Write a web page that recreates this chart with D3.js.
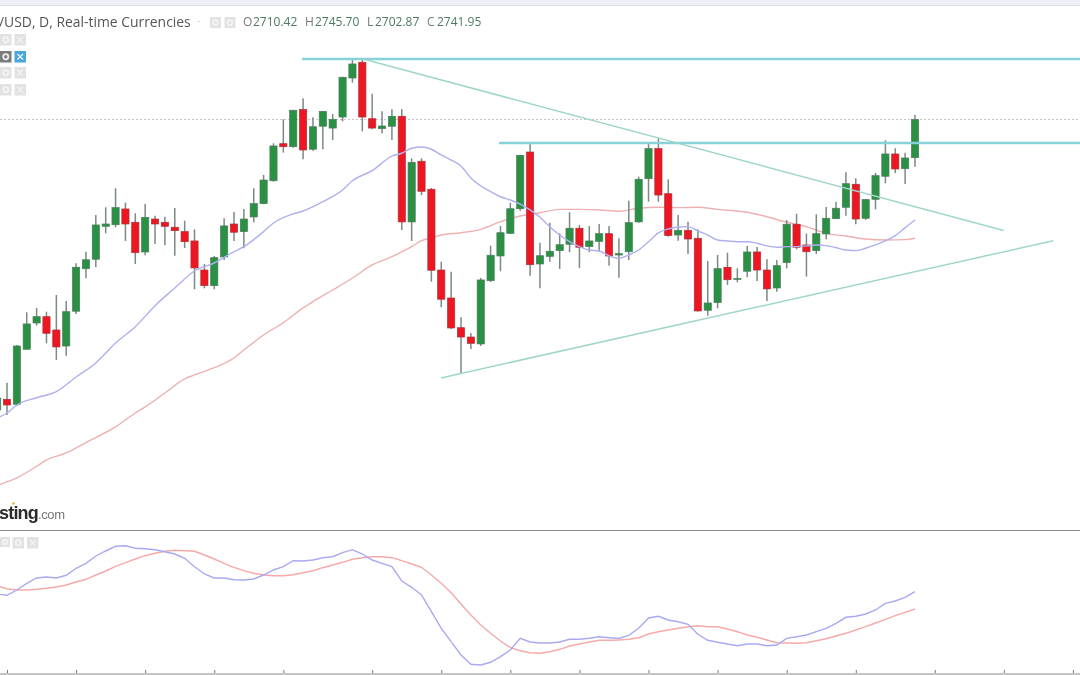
<!DOCTYPE html>
<html>
<head>
<meta charset="utf-8">
<script src="https://cdn.jsdelivr.net/npm/d3@7"></script>
<style>
  html, body { margin: 0; padding: 0; background: #fff; overflow: hidden; }
  svg { display: block; filter: blur(0.45px); }
</style>
</head>
<body>
<svg id="chart"></svg>
<script>
// daily candles, first one is cut off by the left edge
const firstCandle = -1;
const opens = [
  2502.2, 2511.0, 2506.9, 2552.3, 2574.0, 2579.2, 2568.2, 2555.0, 2583.7, 2618.8,
  2626.6, 2653.8, 2655.1, 2668.1, 2657.1, 2632.6, 2659.8, 2657.1, 2653.0, 2649.4,
  2641.7, 2617.7, 2604.8, 2628.5, 2655.7, 2649.4, 2661.5, 2672.5, 2691.4, 2722.0,
  2719.5, 2750.1, 2717.4, 2736.4, 2734.9, 2744.0, 2776.2, 2789.2, 2742.6, 2734.4,
  2736.4, 2744.6, 2657.4, 2707.5, 2684.4, 2617.7, 2594.6, 2570.1, 2562.4, 2556.7,
  2608.9, 2629.3, 2648.0, 2668.3, 2715.1, 2622.7, 2629.0, 2633.7, 2639.0, 2652.2,
  2637.0, 2641.4, 2647.7, 2630.1, 2632.8, 2657.4, 2693.1, 2717.9, 2680.7, 2646.6,
  2650.5, 2643.9, 2584.5, 2590.8, 2620.0, 2610.3, 2616.7, 2632.6, 2617.7, 2602.9,
  2623.8, 2655.5, 2638.4, 2633.7, 2647.5, 2660.1, 2669.5, 2688.5, 2660.4, 2676.1,
  2695.1, 2713.5, 2701.4, 2710.42,
];
const highs = [
  2514.6, 2524.7, 2555.8, 2582.8, 2586.4, 2583.3, 2597.1, 2592.2, 2623.3, 2632.8,
  2663.1, 2669.5, 2685.2, 2673.3, 2664.5, 2672.2, 2662.6, 2661.7, 2668.9, 2658.4,
  2651.3, 2622.7, 2629.3, 2660.4, 2665.6, 2668.1, 2685.2, 2696.2, 2722.3, 2742.1,
  2749.8, 2759.5, 2743.8, 2749.0, 2746.5, 2777.3, 2791.9, 2791.9, 2763.3, 2748.7,
  2750.4, 2750.6, 2709.9, 2709.9, 2685.4, 2624.6, 2616.3, 2578.7, 2565.7, 2611.1,
  2637.8, 2654.1, 2673.3, 2712.9, 2722.3, 2640.3, 2656.8, 2648.0, 2665.4, 2654.9,
  2654.1, 2655.7, 2654.1, 2643.9, 2674.9, 2694.8, 2721.7, 2726.4, 2692.6, 2663.1,
  2657.6, 2651.3, 2625.2, 2630.1, 2632.0, 2619.1, 2637.6, 2636.7, 2626.6, 2626.0,
  2659.0, 2664.2, 2647.7, 2663.7, 2669.7, 2674.1, 2698.4, 2693.4, 2676.3, 2697.8,
  2724.8, 2718.2, 2714.6, 2745.70,
];
const lows = [
  2498.1, 2498.1, 2505.5, 2552.0, 2571.8, 2557.2, 2543.5, 2547.0, 2581.4, 2610.9,
  2620.0, 2648.0, 2653.0, 2641.7, 2622.7, 2629.9, 2639.2, 2638.1, 2629.5, 2635.9,
  2601.8, 2602.6, 2601.8, 2626.0, 2641.7, 2635.7, 2657.1, 2672.0, 2690.6, 2714.6,
  2718.7, 2709.1, 2716.2, 2717.4, 2725.0, 2740.5, 2772.3, 2732.2, 2733.9, 2730.6,
  2725.0, 2650.8, 2641.7, 2679.4, 2608.1, 2587.0, 2569.0, 2531.9, 2552.5, 2555.0,
  2607.8, 2616.7, 2647.5, 2666.7, 2613.0, 2602.6, 2624.6, 2618.6, 2632.4, 2619.4,
  2632.4, 2632.8, 2621.3, 2611.4, 2626.0, 2656.8, 2674.1, 2674.1, 2645.2, 2641.9,
  2630.9, 2583.5, 2580.0, 2586.1, 2605.4, 2607.6, 2611.7, 2608.7, 2592.2, 2599.8,
  2619.1, 2634.8, 2612.2, 2630.9, 2643.1, 2659.8, 2662.6, 2655.5, 2659.0, 2667.8,
  2689.3, 2697.8, 2688.7, 2702.87,
];
const closes = [
  2512.1, 2506.3, 2555.0, 2573.2, 2579.2, 2565.5, 2554.2, 2583.3, 2620.0, 2626.2,
  2654.9, 2655.7, 2669.2, 2655.7, 2632.0, 2661.2, 2655.7, 2653.8, 2650.2, 2641.1,
  2619.4, 2604.8, 2627.9, 2654.1, 2648.9, 2659.8, 2672.5, 2692.0, 2720.1, 2719.5,
  2749.6, 2716.8, 2736.0, 2748.7, 2742.1, 2776.8, 2787.8, 2744.0, 2734.9, 2736.6,
  2744.6, 2657.4, 2706.6, 2682.7, 2617.5, 2593.6, 2569.9, 2562.4, 2557.2, 2609.5,
  2629.9, 2648.5, 2668.3, 2712.4, 2622.1, 2629.5, 2633.2, 2638.6, 2652.2, 2636.5,
  2641.7, 2647.7, 2629.3, 2631.2, 2656.8, 2692.6, 2717.9, 2679.6, 2646.1, 2650.5,
  2643.3, 2583.9, 2590.5, 2618.8, 2609.7, 2610.6, 2632.6, 2617.7, 2602.1, 2621.3,
  2655.5, 2636.5, 2632.8, 2647.7, 2660.4, 2668.7, 2689.0, 2659.8, 2675.8, 2695.6,
  2713.5, 2701.1, 2710.2, 2741.95,
];

// moving averages, read at these candle numbers
const fastMaAt = [
  -1, 0, 1, 3, 5, 7, 9, 11, 13, 15, 17, 19, 21, 23, 24, 26, 27, 29, 30, 32, 34, 35, 37, 39, 40, 41,
  42, 43, 44, 45, 46, 47, 49, 50, 51, 52, 53, 54, 55, 56, 57, 58, 59, 60, 61, 62, 63, 64, 65, 66,
  67, 68, 69, 70, 71, 72, 73, 74, 75, 76, 77, 78, 79, 80, 81, 82, 83, 84, 85, 86, 87, 88, 89, 90, 91, 92,
];
const fastMa = [
  2495.6, 2499.7, 2506.3, 2512.3, 2517.3, 2529.4, 2541.0, 2557.5, 2570.9, 2588.3, 2602.9, 2616.9, 2623.5,
  2632.8, 2637.0, 2649.4, 2656.5, 2664.0, 2666.4, 2674.1, 2683.8, 2691.4, 2699.7, 2711.8, 2714.1, 2718.2,
  2719.3, 2717.4, 2712.7, 2708.5, 2703.6, 2693.7, 2682.4, 2678.2, 2675.5, 2672.2, 2667.3, 2661.2, 2653.5, 2646.6,
  2641.1, 2637.0, 2634.2, 2633.4, 2629.5, 2627.4, 2630.1, 2634.2, 2641.1, 2648.3,
  2651.6, 2653.2, 2653.5, 2649.9, 2646.6, 2642.5, 2641.7, 2641.1, 2641.1, 2639.8, 2637.6, 2636.5, 2637.0, 2637.0,
  2637.6, 2638.4, 2637.8, 2636.1, 2634.2, 2633.7, 2635.7, 2638.4, 2641.7, 2646.1, 2652.7, 2659.0,
];
const slowMaAt = [
  -1, 1, 3, 4, 6, 8, 11, 13, 14, 16, 18, 19, 21, 23, 24, 26, 28, 30, 31, 33, 35, 37, 39, 41, 42, 43, 44,
  46, 48, 50, 52, 54, 56, 58, 60, 62, 64, 66, 68, 70, 72, 75, 77, 79, 81, 83, 85, 87, 89, 91, 92,
];
const slowMa = [
  2439.9, 2446.1, 2455.7, 2460.9, 2466.7, 2475.3, 2488.2, 2499.7, 2504.7, 2516.2, 2527.8, 2531.1, 2537.1, 2545.1,
  2551.7, 2564.1, 2574.2, 2586.4, 2591.6, 2601.2, 2611.1, 2621.9, 2628.7, 2637.0, 2641.9, 2644.2, 2646.6,
  2648.5, 2651.3, 2657.6, 2662.3, 2665.0, 2667.8, 2667.8, 2667.3, 2666.2, 2668.7, 2669.5, 2669.2, 2669.5, 2667.8,
  2665.4, 2661.7, 2657.1, 2653.5, 2648.0, 2645.8, 2643.3, 2642.5, 2642.8, 2643.9,
];

// lower panel, one value per candle
const oscFast = [
  6, 4.7, 10, 16.7, 22, 23, 22, 24.7, 31.7, 36.7, 44, 49, 53.7, 54.3, 51.7, 51.3, 50.3, 48.3, 46, 41.7,
  33.3, 26, 22, 22, 20.3, 20, 21, 25, 30, 33.3, 39.3, 39, 40, 42.3, 43.3, 47.3, 50.3, 46, 40, 36.7,
  33.3, 19, 12.7, 5, -11.7, -28.3, -41.7, -55, -64.3, -65, -62.3, -56.7, -50, -38.3, -42, -43, -43, -42, -39.3, -39.3,
  -38.3, -36.7, -37.7, -38.5, -35.3, -28.3, -18, -16.3, -20, -21.7, -24.3, -34.3, -40.3, -42.3, -44, -45.7, -44, -44, -45.7, -45,
  -38.3, -36.7, -35, -31.7, -28.3, -23.3, -17.3, -16.3, -14, -10, -3.3, -1, 2.7, 8.3,
];
const oscSlow = [
  14, 11.3, 10, 10, 10.7, 11.7, 13, 15, 18, 20.7, 25, 29, 33.7, 37.3, 41, 44.3, 46.7, 48.7, 49.7, 49.3,
  48.7, 45, 41, 36.7, 32.7, 29.3, 26.7, 25, 24.3, 24.3, 25.3, 27.3, 29.3, 32.3, 35, 37.7, 40.7, 42.3, 43.3, 43.3,
  42.3, 39.3, 36, 32.7, 25, 16.7, 7.3, -4, -15, -25, -33.3, -41, -47.7, -50.7, -52.7, -53.3, -51.7, -49.3, -46, -44,
  -42, -40.3, -40.3, -40, -39.3, -37.7, -34, -31.7, -30, -28.3, -26.7, -25.7, -26.7, -26.7, -29, -31.7, -35, -37.3, -40, -42.7,
  -43, -43.3, -42.7, -40.7, -38.7, -36, -33.3, -30, -26.7, -23, -19.3, -15.7, -12.3, -9,
];

// drawn levels and trend lines: [candle, price]
const levels = [
  [[29.9, 2791.9], [109, 2791.9]],
  [[49.85, 2722.6], [109, 2722.6]],
];
const trends = [
  [[36.07, 2791.9], [101, 2650.4]],
  [[43.97, 2528.6], [106, 2641.9]],
];
const lastPrice = 2741.95;
const dateTicks = [0, 7, 14, 21, 28, 37, 44, 51, 58, 65, 72, 79, 86, 94, 101, 108];

const titleText = '/USD, D, Real-time Currencies';
const ohlcLabels = ['O', 'H', 'L', 'C'];
const ohlcValues = ['2710.42', '2745.70', '2702.87', '2741.95'];

const width = 1080;
const height = 675;

const svg = d3.select('#chart').attr('width', width).attr('height', height);
svg.append('rect').attr('width', width).attr('height', height).attr('fill', '#fff');

const x = d3.scaleLinear().domain([0, 92]).range([7, 915]);
const y = d3.scaleLinear().domain([2840.6, 2403.1]).range([0, 530]);
const yOsc = d3.scaleLinear().domain([69, -72]).range([531, 672]);

// toolbar edge at the very top
svg.append('rect').attr('width', width).attr('height', 5).attr('fill', '#edf1f6');
svg.append('line').attr('x1', 0).attr('x2', width).attr('y1', 5.5).attr('y2', 5.5).attr('stroke', '#dfe3e8');

// last price line
svg.append('line')
  .attr('x1', 0).attr('x2', width)
  .attr('y1', y(lastPrice)).attr('y2', y(lastPrice))
  .attr('stroke', '#c6c6c6')
  .attr('stroke-dasharray', '2 2');

const priceLine = d3.line().x((d) => x(d[0])).y((d) => y(d[1]));
const maLine = d3.line().x((d) => x(d[0])).y((d) => y(d[1])).curve(d3.curveMonotoneX);

svg.append('path')
  .attr('d', maLine(d3.zip(slowMaAt, slowMa)))
  .attr('fill', 'none')
  .attr('stroke', '#eeb0b0')
  .attr('stroke-width', 1.4);

const candles = opens.map((open, i) => ({
  i: i + firstCandle,
  open,
  high: highs[i],
  low: lows[i],
  close: closes[i],
}));

const candle = svg.append('g').selectAll('g').data(candles).join('g');
candle.append('line')
  .attr('x1', (d) => x(d.i)).attr('x2', (d) => x(d.i))
  .attr('y1', (d) => y(d.high)).attr('y2', (d) => y(d.low))
  .attr('stroke', '#7b8a82')
  .attr('stroke-width', 1.5);
candle.append('rect')
  .attr('x', (d) => x(d.i) - 3.6)
  .attr('width', 7.2)
  .attr('y', (d) => y(Math.max(d.open, d.close)))
  .attr('height', (d) => Math.max(0.8, Math.abs(y(d.open) - y(d.close))))
  .attr('fill', (d) => (d.close >= d.open ? '#2a9044' : '#ee1620'))
  .attr('stroke', (d) => (d.close >= d.open ? '#4a7d5c' : '#a8323a'))
  .attr('stroke-width', 0.7);

svg.append('path')
  .attr('d', maLine(d3.zip(fastMaAt, fastMa)))
  .attr('fill', 'none')
  .attr('stroke', '#aeb0f0')
  .attr('stroke-width', 1.4);

svg.append('g').selectAll('path').data(levels).join('path')
  .attr('d', priceLine)
  .attr('stroke', '#86d2d8')
  .attr('stroke-width', 2.4);
svg.append('g').selectAll('path').data(trends).join('path')
  .attr('d', priceLine)
  .attr('stroke', '#a0d6c9')
  .attr('stroke-width', 1.5);

// lower panel
svg.append('line').attr('x1', 0).attr('x2', width).attr('y1', 530.5).attr('y2', 530.5).attr('stroke', '#8a8a8a');

const oscLine = d3.line()
  .x((d, i) => x(i + firstCandle))
  .y((d) => yOsc(d));
svg.append('path').attr('d', oscLine(oscSlow)).attr('fill', 'none').attr('stroke', '#f5a9a9').attr('stroke-width', 1.4);
svg.append('path').attr('d', oscLine(oscFast)).attr('fill', 'none').attr('stroke', '#a9a9f2').attr('stroke-width', 1.4);

const dateAxis = svg.append('g')
  .attr('transform', 'translate(0,673)')
  .call(d3.axisTop(x).tickValues(dateTicks).tickFormat('').tickSize(3));
dateAxis.select('.domain').remove();
dateAxis.selectAll('line').attr('stroke', '#777');
svg.append('rect').attr('y', 673).attr('width', width).attr('height', 2).attr('fill', '#c4c4c4');

// legend text
const legend = svg.append('g').attr('font-family', '"Open Sans", sans-serif');
legend.append('text')
  .attr('x', -1).attr('y', 27)
  .attr('font-size', 13.9)
  .attr('fill', '#555')
  .text(titleText);
legend.append('text').attr('x', 197).attr('y', 24).attr('font-size', 10).attr('fill', '#ccc').text('-');

const ohlcX = [243, 305, 367, 427];
ohlcLabels.forEach((label, i) => {
  legend.append('text').attr('x', ohlcX[i]).attr('y', 26).attr('font-size', 12).attr('fill', '#777').text(label);
  legend.append('text').attr('x', ohlcX[i] + (i === 2 ? 8 : 10)).attr('y', 26)
    .attr('font-size', 12).attr('fill', '#4f7a62').text(ohlcValues[i]);
});

// little gear / close buttons
function button(bx, by, size, fill, mark, glyph) {
  const g = svg.append('g');
  g.append('rect').attr('x', bx).attr('y', by).attr('width', size).attr('height', size).attr('fill', fill);
  if (glyph === 'gear') {
    g.append('circle').attr('cx', bx + size / 2).attr('cy', by + size / 2).attr('r', size / 4.5)
      .attr('fill', 'none').attr('stroke', mark).attr('stroke-width', 1.8);
  } else {
    const p = size * 0.25;
    g.append('path')
      .attr('d', `M${bx + p},${by + p}L${bx + size - p},${by + size - p}M${bx + size - p},${by + p}L${bx + p},${by + size - p}`)
      .attr('stroke', mark).attr('stroke-width', 1.3);
  }
}
[34, 51, 67, 84].forEach((by, row) => {
  const active = row === 1;
  button(0, by, 11.5, active ? '#7c7c7c' : '#e2e2e2', active ? '#eee' : '#f4f4f4', 'gear');
  button(14.5, by, 11.5, active ? '#46a7e0' : '#e2e2e2', active ? '#fff' : '#f4f4f4', 'x');
});
button(210, 17, 11, '#e2e2e2', '#f4f4f4', 'gear');
button(224.5, 17, 11, '#e2e2e2', '#f4f4f4', 'gear');
button(0, 537, 10, '#e2e2e2', '#f4f4f4', 'gear');
button(12.5, 537, 11.5, '#e2e2e2', '#f4f4f4', 'gear');
button(27, 537, 11.5, '#e2e2e2', '#f4f4f4', 'x');

// site logo, cut off by the left edge
const logo = svg.append('g').attr('font-family', '"Liberation Sans", Arial, sans-serif');
logo.append('text').attr('x', -1).attr('y', 519).attr('font-size', 18).attr('font-weight', 700)
  .attr('letter-spacing', -0.8).attr('fill', '#2b2b2b').text('sting');
logo.append('text').attr('x', 38).attr('y', 519).attr('font-size', 13).attr('letter-spacing', -0.4)
  .attr('fill', '#777').text('.com');
logo.append('circle').attr('cx', 13.5).attr('cy', 503.5).attr('r', 1.3).attr('fill', '#e8b23a');
</script>
</body>
</html>
